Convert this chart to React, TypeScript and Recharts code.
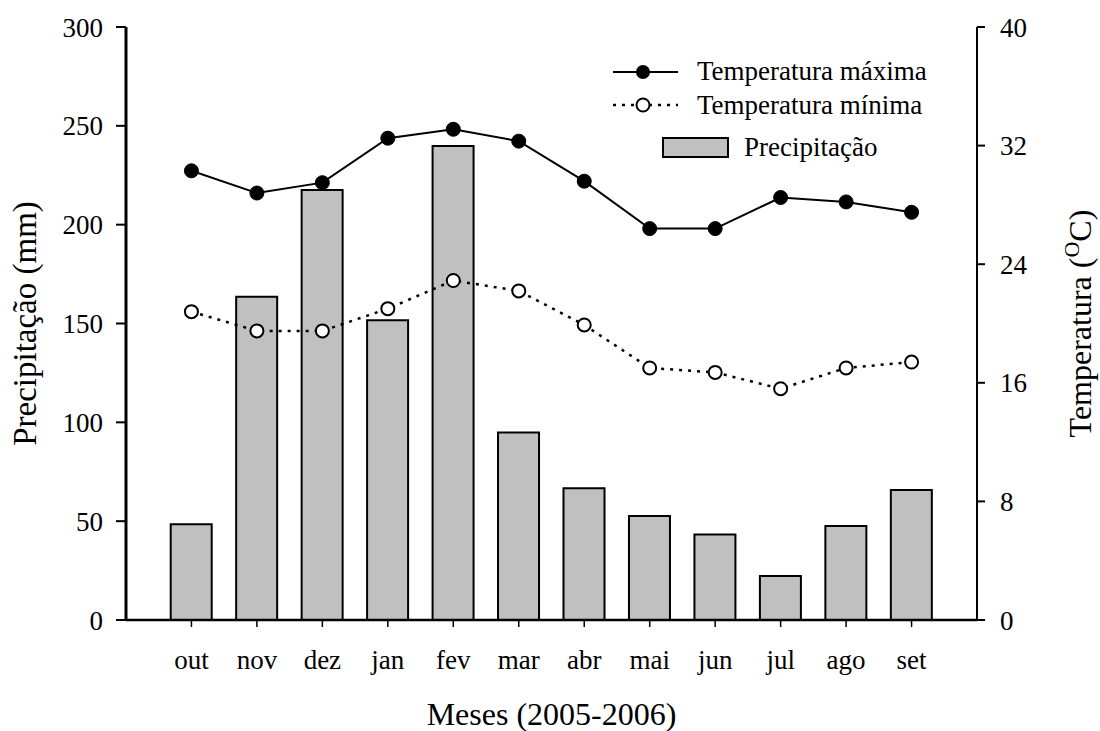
import { ComposedChart, Bar, Line, XAxis, YAxis, Legend } from 'recharts';

const months = ['out', 'nov', 'dez', 'jan', 'fev', 'mar', 'abr', 'mai', 'jun', 'jul', 'ago', 'set'];
const precipitacao = [48.4, 163.5, 217.5, 151.7, 239.8, 94.9, 66.6, 52.6, 43.3, 22.3, 47.5, 65.8];
const tempMaxima = [30.3, 28.8, 29.5, 32.5, 33.1, 32.3, 29.6, 26.4, 26.4, 28.5, 28.2, 27.5];
const tempMinima = [20.8, 19.5, 19.5, 21.0, 22.9, 22.2, 19.9, 17.0, 16.7, 15.6, 17.0, 17.4];
const precTicks = [0, 50, 100, 150, 200, 250, 300];
const tempTicks = [0, 8, 16, 24, 32, 40];

const data = months.map((m, i) => ({
  month: m,
  prec: precipitacao[i],
  tmax: tempMaxima[i],
  tmin: tempMinima[i],
}));

const FONT = '"Liberation Serif", "Times New Roman", serif';

// legend drawn by hand, sigmaplot style
const renderLegend = () => (
  <svg width={380} height={120} style={{ overflow: 'visible', fontFamily: FONT }}>
    <line x1={0} y1={22} x2={65} y2={22} stroke="#000" strokeWidth={2} />
    <circle cx={30} cy={22} r={7} fill="#000" />
    <text x={84} y={30} fontSize={27} fill="#000">Temperatura máxima</text>

    <line x1={0} y1={55} x2={65} y2={55} stroke="#000" strokeWidth={2.5} strokeDasharray="3 6" />
    <circle cx={30} cy={55} r={6.5} fill="#fff" stroke="#000" strokeWidth={2} />
    <text x={84} y={64} fontSize={27} fill="#000">Temperatura mínima</text>

    <rect x={50} y={88} width={65} height={19} fill="#c0c0c0" stroke="#000" strokeWidth={2} />
    <text x={131} y={106} fontSize={27} fill="#000">Precipitação</text>
  </svg>
);

export default function App() {
  return (
    <div style={{ position: 'absolute', left: 0, top: 0, fontFamily: FONT }}>
      <ComposedChart
        width={1100}
        height={731}
        data={data}
        margin={{ top: 27, right: 0, bottom: 0, left: 0 }}
      >
        <XAxis
          dataKey="month"
          height={111}
          padding={{ left: 32.7, right: 32.7 }}
          axisLine={{ stroke: '#000', strokeWidth: 2.5 }}
          tickLine={{ stroke: '#000', strokeWidth: 1.5 }}
          tickSize={7}
          tickMargin={23}
          tick={{ fill: '#000', fontSize: 27 }}
          label={{
            content: (props: any) => {
              const vb = props.viewBox;
              const cx = vb.x + vb.width / 2;
              return (
                <text x={cx} y={725} textAnchor="middle" fontSize={32} fill="#000">
                  Meses (2005-2006)
                </text>
              );
            },
          }}
        />
        <YAxis
          yAxisId="p"
          orientation="left"
          width={126}
          domain={[0, 300]}
          ticks={precTicks}
          axisLine={{ stroke: '#000', strokeWidth: 3 }}
          tickLine={{ stroke: '#000', strokeWidth: 2 }}
          tickSize={10}
          tickMargin={13}
          tick={{ fill: '#000', fontSize: 27 }}
          label={{
            content: (props: any) => {
              const vb = props.viewBox;
              const cy = vb.y + vb.height / 2;
              return (
                <text x={36} y={cy} transform={`rotate(-90 36 ${cy})`} textAnchor="middle" fontSize={33} fill="#000">
                  Precipitação (mm)
                </text>
              );
            },
          }}
        />
        <YAxis
          yAxisId="t"
          orientation="right"
          width={123}
          domain={[0, 40]}
          ticks={tempTicks}
          axisLine={{ stroke: '#000', strokeWidth: 2 }}
          tickLine={{ stroke: '#000', strokeWidth: 2 }}
          tickSize={8}
          tickMargin={15}
          tick={{ fill: '#000', fontSize: 27 }}
          label={{
            content: (props: any) => {
              const vb = props.viewBox;
              const cy = vb.y + vb.height / 2;
              return (
                <text x={1091} y={cy} transform={`rotate(-90 1091 ${cy})`} textAnchor="middle" fontSize={32} fill="#000">
                  Temperatura (<tspan dy={-12} fontSize={22}>O</tspan><tspan dy={12}>C)</tspan>
                </text>
              );
            },
          }}
        />
        <Legend
          layout="horizontal"
          verticalAlign="middle"
          align="center"
          content={renderLegend}
          wrapperStyle={{ left: 613, top: 50, width: 380, height: 120 }}
        />
        <Bar
          yAxisId="p"
          dataKey="prec"
          name="Precipitação"
          barSize={41}
          fill="#c0c0c0"
          stroke="#000"
          strokeWidth={2}
          isAnimationActive={false}
        />
        <Line
          yAxisId="t"
          type="linear"
          dataKey="tmax"
          name="Temperatura máxima"
          stroke="#000"
          strokeWidth={2}
          dot={{ r: 7, fill: '#000', stroke: '#000', strokeWidth: 1 }}
          activeDot={false}
          isAnimationActive={false}
        />
        <Line
          yAxisId="t"
          type="linear"
          dataKey="tmin"
          name="Temperatura mínima"
          stroke="#000"
          strokeWidth={2.5}
          strokeDasharray="3 6"
          dot={{ r: 6.5, fill: '#fff', stroke: '#000', strokeWidth: 2, strokeDasharray: 'none' }}
          activeDot={false}
          isAnimationActive={false}
        />
      </ComposedChart>
    </div>
  );
}
